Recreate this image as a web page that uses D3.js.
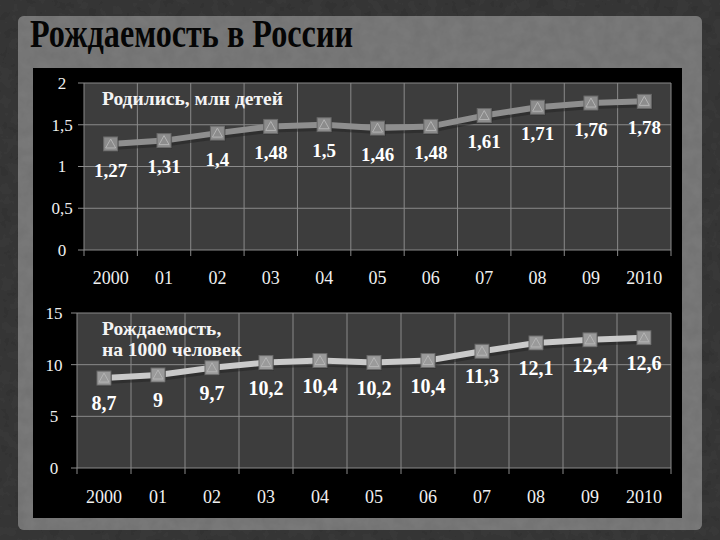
<!DOCTYPE html>
<html><head><meta charset="utf-8">
<script src="https://cdn.jsdelivr.net/npm/d3@7"></script>
<style>html,body{margin:0;padding:0;background:#3a3a3a;}svg{display:block;}</style>
</head><body>
<script>
const years = ["2000","01","02","03","04","05","06","07","08","09","2010"];
const births = [1.27,1.31,1.4,1.48,1.5,1.46,1.48,1.61,1.71,1.76,1.78];
const birthLabels = ["1,27","1,31","1,4","1,48","1,5","1,46","1,48","1,61","1,71","1,76","1,78"];
const rate = [8.7,9,9.7,10.2,10.4,10.2,10.4,11.3,12.1,12.4,12.6];
const rateLabels = ["8,7","9","9,7","10,2","10,4","10,2","10,4","11,3","12,1","12,4","12,6"];
const topTicks = [0,0.5,1,1.5,2];
const topTickLabels = ["0","0,5","1","1,5","2"];
const botTicks = [0,5,10,15];
const botTickLabels = ["0","5","10","15"];
const title = "Рождаемость в России";
const topName = ["Родились, млн детей"];
const botName = ["Рождаемость,","на 1000 человек"];

const W=720,H=540;
const svg=d3.select("body").append("svg").attr("width",W).attr("height",H);
const defs=svg.append("defs");
const f=defs.append("filter").attr("id","tex").attr("x",0).attr("y",0).attr("width",1).attr("height",1);
f.append("feTurbulence").attr("type","fractalNoise").attr("baseFrequency","0.08").attr("numOctaves",3).attr("seed",3).attr("result","n");
f.append("feColorMatrix").attr("in","n").attr("type","matrix")
 .attr("values","0 0 0 0 0  0 0 0 0 0  0 0 0 0 0  0 0 0 0.35 0").attr("result","a");
f.append("feComposite").attr("in","a").attr("in2","SourceGraphic").attr("operator","atop");

// outer background
svg.append("rect").attr("width",W).attr("height",H).attr("fill","#3b3b3b");
svg.append("rect").attr("width",W).attr("height",H).attr("fill","#3b3b3b").attr("filter","url(#tex)");
// paper
svg.append("rect").attr("x",18).attr("y",16).attr("width",684).attr("height",514).attr("rx",6).attr("fill","#7c7c7c");
svg.append("rect").attr("x",18).attr("y",16).attr("width",684).attr("height",514).attr("rx",6).attr("fill","#7c7c7c").attr("filter","url(#tex)").attr("opacity",0.5);
// title
svg.append("text").attr("x",30).attr("y",47).attr("font-family","Liberation Serif, serif")
 .attr("font-weight","bold").attr("font-size",40).attr("fill","#050505")
 .attr("textLength",323).attr("lengthAdjust","spacingAndGlyphs").text(title);
// black panel
svg.append("rect").attr("x",33).attr("y",68).attr("width",649).attr("height",450).attr("fill","#000");

function chart(o){
  const g=svg.append("g");
  const x=d3.scaleBand().domain(years).range([o.x0,o.x1]);
  const y=d3.scaleLinear().domain(o.dom).range([o.y0,o.y1]);
  g.append("rect").attr("x",o.x0).attr("y",o.y1).attr("width",o.x1-o.x0).attr("height",o.y0-o.y1).attr("fill","#3d3d3d");
  // horizontal grid
  g.selectAll(".hg").data(o.ticks).join("line")
   .attr("x1",o.x0-6).attr("x2",o.x1).attr("y1",d=>y(d)).attr("y2",d=>y(d))
   .attr("stroke","#8a8a8a").attr("stroke-width",1);
  // vertical grid at band boundaries
  const bounds=years.map(d=>x(d)).concat([o.x1]);
  g.selectAll(".vg").data(bounds).join("line")
   .attr("x1",d=>d).attr("x2",d=>d).attr("y1",o.y1).attr("y2",o.y0+6)
   .attr("stroke","#8a8a8a").attr("stroke-width",1);
  // y labels
  g.selectAll(".yl").data(o.ticks).join("text")
   .attr("x",o.ylx).attr("y",d=>y(d)).attr("dy","0.35em").attr("text-anchor","middle")
   .attr("font-family","Liberation Serif, serif").attr("font-size",17).attr("fill","#f0f0f0")
   .text((d,i)=>o.tickLabels[i]);
  // x labels
  g.selectAll(".xl").data(years).join("text")
   .attr("x",d=>x(d)+x.bandwidth()/2).attr("y",o.xly).attr("dy","0.35em").attr("text-anchor","middle")
   .attr("font-family","Liberation Serif, serif").attr("font-size",18).attr("fill","#f0f0f0")
   .text(d=>d);
  const cx=d=>x(d)+x.bandwidth()/2;
  const line=d3.line().x((d,i)=>cx(years[i])).y(d=>y(d));
  g.append("path").datum(o.vals).attr("d",line).attr("fill","none")
   .attr("stroke","#222").attr("stroke-opacity",0.5).attr("stroke-width",o.lw+2).attr("transform","translate(1,2)");
  g.append("path").datum(o.vals).attr("d",line).attr("fill","none")
   .attr("stroke",o.lc).attr("stroke-width",o.lw).attr("stroke-linejoin","round");
  // markers
  const m=g.selectAll(".mk").data(o.vals).join("g")
   .attr("transform",(d,i)=>`translate(${cx(years[i])},${y(d)})`);
  m.append("rect").attr("x",-7).attr("y",-7).attr("width",15).attr("height",15).attr("fill","#222").attr("opacity",0.5);
  m.append("rect").attr("x",-7).attr("y",-7).attr("width",14).attr("height",14).attr("fill",o.mc).attr("stroke","#6a6a6a").attr("stroke-width",1);
  m.append("path").attr("d","M0,-5L5,4L-5,4Z").attr("fill","none").attr("stroke","#b4b4b4").attr("stroke-width",1);
  // data labels
  g.selectAll(".dl").data(o.vals).join("text")
   .attr("x",(d,i)=>cx(years[i])).attr("y",d=>y(d)+o.ldy).attr("dy","0.35em").attr("text-anchor","middle")
   .attr("font-family","Liberation Serif, serif").attr("font-weight","bold").attr("font-size",o.lfs).attr("fill","#fff")
   .text((d,i)=>o.labels[i]);
  // series name
  g.selectAll(".nm").data(o.name).join("text")
   .attr("x",102).attr("y",(d,i)=>o.ny+i*21).attr("dy","0.35em")
   .attr("font-family","Liberation Serif, serif").attr("font-weight","bold").attr("font-size",19.5).attr("fill","#f4f4f4")
   .text(d=>d);
}
chart({x0:84,x1:671,y0:250,y1:83,dom:[0,2],ticks:topTicks,tickLabels:topTickLabels,ylx:62,xly:278,
  vals:births,labels:birthLabels,lc:"#8e8e8e",lw:6,mc:"#8c8c8c",ldy:26,lfs:19,name:topName,ny:98});
chart({x0:77,x1:671,y0:468,y1:313,dom:[0,15],ticks:botTicks,tickLabels:botTickLabels,ylx:54,xly:497,
  vals:rate,labels:rateLabels,lc:"#cacaca",lw:6,mc:"#9a9a9a",ldy:25,lfs:20,name:botName,ny:328});
</script>
</body></html>
